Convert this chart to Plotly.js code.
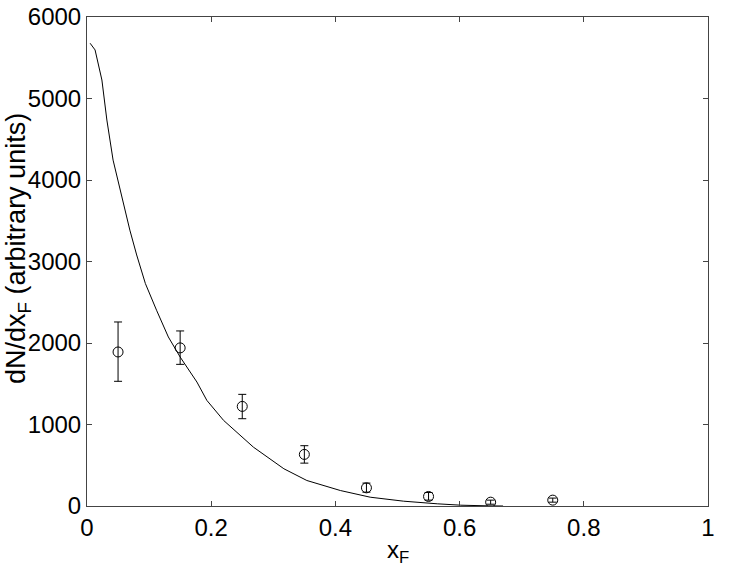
<!DOCTYPE html>
<html>
<head>
<meta charset="utf-8">
<script src="https://cdn.plot.ly/plotly-3.0.1.min.js"></script>
<style>
  html, body { margin: 0; padding: 0; background: #fff; }
  #chart { width: 729px; height: 568px; }
</style>
</head>
<body>
<div id="chart"></div>
<script>
// measured points with errors
var xData = [0.05, 0.15, 0.25, 0.35, 0.45, 0.55, 0.65, 0.75];
var yData = [1890, 1940, 1222, 633, 223, 117, 47, 72];
var errPlus = [368, 208, 148, 107, 58, 49, 25, 25];
var errMinus = [360, 202, 151, 107, 53, 45, 25, 25];

// model curve
var xCurve = [0.005, 0.013, 0.024, 0.032, 0.042, 0.056, 0.069, 0.08, 0.094, 0.112, 0.131, 0.15,
  0.177, 0.193, 0.22, 0.268, 0.317, 0.354, 0.376, 0.408, 0.456, 0.51, 0.564, 0.602, 0.645, 0.67];
var yCurve = [5678, 5596, 5227, 4736, 4244, 3794, 3385, 3080, 2730, 2402, 2074, 1828,
  1521, 1296, 1050, 722, 457, 313, 265, 190, 108, 59, 27, 10, 2, 0];

var data = [
  {
    x: xCurve,
    y: yCurve,
    mode: 'lines',
    line: {color: '#000', width: 1},
    type: 'scatter',
    hoverinfo: 'skip'
  },
  {
    x: xData,
    y: yData,
    mode: 'markers',
    marker: {symbol: 'circle-open', size: 10, color: '#000', line: {width: 1}},
    error_y: {type: 'data', symmetric: false, array: errPlus, arrayminus: errMinus,
      color: '#000', thickness: 1, width: 4},
    type: 'scatter'
  }
];

var fam = 'Liberation Sans, Arial, sans-serif';
var tickFont = {family: fam, size: 24, color: '#000'};

var layout = {
  width: 729,
  height: 568,
  showlegend: false,
  paper_bgcolor: '#fff',
  plot_bgcolor: '#fff',
  margin: {l: 87, r: 21, t: 17, b: 62},
  font: tickFont,
  xaxis: {
    range: [0, 1],
    tickvals: [0, 0.2, 0.4, 0.6, 0.8, 1],
    ticktext: ['0', '0.2', '0.4', '0.6', '0.8', '1'],
    ticks: 'inside',
    ticklen: 5,
    tickcolor: '#444',
    showline: true,
    linecolor: '#444',
    linewidth: 1,
    mirror: 'ticks',
    showgrid: false,
    zeroline: false,
    tickfont: tickFont
  },
  yaxis: {
    range: [0, 6000],
    tickvals: [0, 1000, 2000, 3000, 4000, 5000, 6000],
    ticks: 'inside',
    ticklen: 5,
    tickcolor: '#444',
    showline: true,
    linecolor: '#444',
    linewidth: 1,
    mirror: 'ticks',
    showgrid: false,
    zeroline: false,
    tickfont: tickFont
  },
  annotations: [
    {
      // x axis title
      text: 'x<sub>F</sub>',
      font: {family: fam, size: 24, color: '#000'},
      showarrow: false,
      xref: 'paper',
      yref: 'paper',
      x: 0.5,
      y: -0.094,
      xanchor: 'center',
      yanchor: 'middle'
    },
    {
      // y axis title, sits a little above the plot centre as in the original
      text: 'dN/dx<sub>F</sub> (arbitrary units)',
      font: {family: fam, size: 27, color: '#000'},
      textangle: -90,
      showarrow: false,
      xref: 'paper',
      yref: 'paper',
      x: -0.11,
      y: 0.527,
      xanchor: 'center',
      yanchor: 'middle'
    }
  ]
};

Plotly.newPlot('chart', data, layout, {displayModeBar: false});
</script>
</body>
</html>
